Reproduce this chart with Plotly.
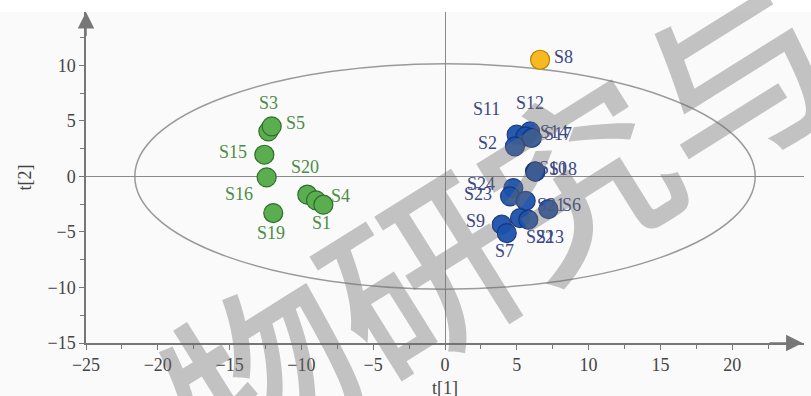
import plotly.graph_objects as go

# PCA score plot: t[1] vs t[2]
green_names = ["S3", "S5", "S15", "S16", "S20", "S4", "S1", "S19"]
green_t1 = [-12.3, -12.07, -12.58, -12.42, -9.59, -8.98, -8.47, -11.96]
green_t2 = [4.05, 4.5, 1.95, -0.09, -1.65, -2.16, -2.55, -3.3]

orange_names = ["S8"]
orange_t1 = [6.62]
orange_t2 = [10.5]

blue_names = ["S11", "S12", "S17", "S14", "S2", "S10", "S18",
              "S24", "S23", "S21", "S6", "S9", "S7", "S22", "S13"]
blue_t1 = [4.99, 5.92, 5.6, 6.04, 4.87, 6.27, 6.3,
           4.76, 4.53, 5.62, 7.2, 3.95, 4.3, 5.22, 5.8]
blue_t2 = [3.76, 4.05, 3.6, 3.46, 2.7, 0.45, 0.42,
           -1.05, -1.8, -2.2, -2.94, -4.35, -5.1, -3.75, -3.9]

# Hotelling T2 ellipse (semi-axes)
ellipse_a = 21.6
ellipse_b = 10.15

x_ticks = [-25, -20, -15, -10, -5, 0, 5, 10, 15, 20]
y_ticks = [-15, -10, -5, 0, 5, 10]
x_minor = [-22.5, -17.5, -12.5, -7.5, -2.5, 2.5, 7.5, 12.5, 17.5, 22.5]
y_minor = [-12.5, -7.5, -2.5, 2.5, 7.5, 12.5]

# label offsets in pixels (dx, dy up)
green_off = [(0, 28), (24, 3), (-31, 3), (-28, -17), (-2, 28), (24, 4), (-2, -18), (-2, -20)]
orange_off = [(23, 3)]
blue_off = [(-30, 26), (0, 28), (33, 2), (22, 6), (-27, 3), (18, 3), (28, 3),
            (-32, 4), (-32, 2), (25, -4), (23, 4), (-26, 4), (-2, -18), (20, -19), (22, -17)]

SERIF = "Liberation Serif"

fig = go.Figure()

fig.add_shape(type="circle", xref="x", yref="y",
              x0=-ellipse_a, x1=ellipse_a, y0=-ellipse_b, y1=ellipse_b,
              line=dict(color="#9a9a9a", width=1.5), layer="below")
# white strip above the plotting area
fig.add_shape(type="rect", xref="paper", yref="paper", x0=-0.2, x1=1.02, y0=1.0, y1=1.05,
              fillcolor="#ffffff", line=dict(width=0), layer="below")

groups = [
    (green_t1, green_t2, "#5aae4f", "#2f6e2b", 1.0),
    (orange_t1, orange_t2, "#f6b922", "#b88300", 1.0),
    (blue_t1, blue_t2, "#1d52ab", "#15357a", 0.95),
]
for xs, ys, fill, edge, op in groups:
    fig.add_trace(go.Scatter(
        x=xs, y=ys, mode="markers",
        marker=dict(size=19, color=fill, opacity=op, line=dict(color=edge, width=1.2)),
        hoverinfo="skip", showlegend=False))

annotations = []
for names, xs, ys, offs, col in [
    (green_names, green_t1, green_t2, green_off, "#4b8d46"),
    (orange_names, orange_t1, orange_t2, orange_off, "#3a4782"),
    (blue_names, blue_t1, blue_t2, blue_off, "#3a4782"),
]:
    for n, x, y, (dx, dy) in zip(names, xs, ys, offs):
        annotations.append(dict(
            x=x, y=y, xref="x", yref="y", text=n, showarrow=False,
            xshift=dx, yshift=dy, xanchor="center", yanchor="middle",
            font=dict(family=SERIF, size=18, color=col)))

# axis arrows
annotations.append(dict(x=24.9, y=-15, ax=22.5, ay=-15, xref="x", yref="y",
                        axref="x", ayref="y", text="", showarrow=True,
                        arrowhead=2, arrowsize=2.2, arrowwidth=1.5, arrowcolor="#777777"))
annotations.append(dict(x=-25, y=14.8, ax=-25, ay=12.5, xref="x", yref="y",
                        axref="x", ayref="y", text="", showarrow=True,
                        arrowhead=2, arrowsize=2.2, arrowwidth=1.5, arrowcolor="#777777"))

# axis titles
annotations.append(dict(x=0.5, y=-0.137, xref="paper", yref="paper", text="t[1]",
                        showarrow=False, xanchor="center", yanchor="middle",
                        font=dict(family=SERIF, size=18, color="#444444")))
annotations.append(dict(x=-0.085, y=0.5, xref="paper", yref="paper", text="t[2]",
                        showarrow=False, textangle=-90, xanchor="center", yanchor="middle",
                        font=dict(family=SERIF, size=18, color="#444444")))

# watermark
annotations.append(dict(x=0.570, y=0.375, xref="paper", yref="paper", text="物研究与",
                        showarrow=False, textangle=-32, xanchor="center", yanchor="middle",
                        font=dict(family="Noto Sans CJK SC", size=186, weight=500,
                                  color="rgba(110,110,110,0.4)")))

axis_common = dict(showgrid=False, showline=True, linecolor="#777777", linewidth=1.5,
                   zeroline=True, zerolinecolor="#8a8a8a", zerolinewidth=1.3,
                   ticks="outside", ticklen=5, tickwidth=1.3, tickcolor="#777777",
                   tickfont=dict(family=SERIF, size=18, color="#444444"))

fig.update_layout(
    width=811, height=396,
    margin=dict(l=86, r=7, t=12, b=53),
    paper_bgcolor="#fafafa", plot_bgcolor="#fafafa",
    annotations=annotations,
    xaxis=dict(range=[-25, 25], tickmode="array", tickvals=x_ticks,
               minor=dict(tickmode="array", tickvals=x_minor, ticks="outside",
                          ticklen=4, tickcolor="#777777"),
               **axis_common),
    yaxis=dict(range=[-15, 14.8], tickmode="array", tickvals=y_ticks,
               minor=dict(tickmode="array", tickvals=y_minor, ticks="outside",
                          ticklen=4, tickcolor="#777777"),
               **axis_common),
)

fig.write_html("out.html")
